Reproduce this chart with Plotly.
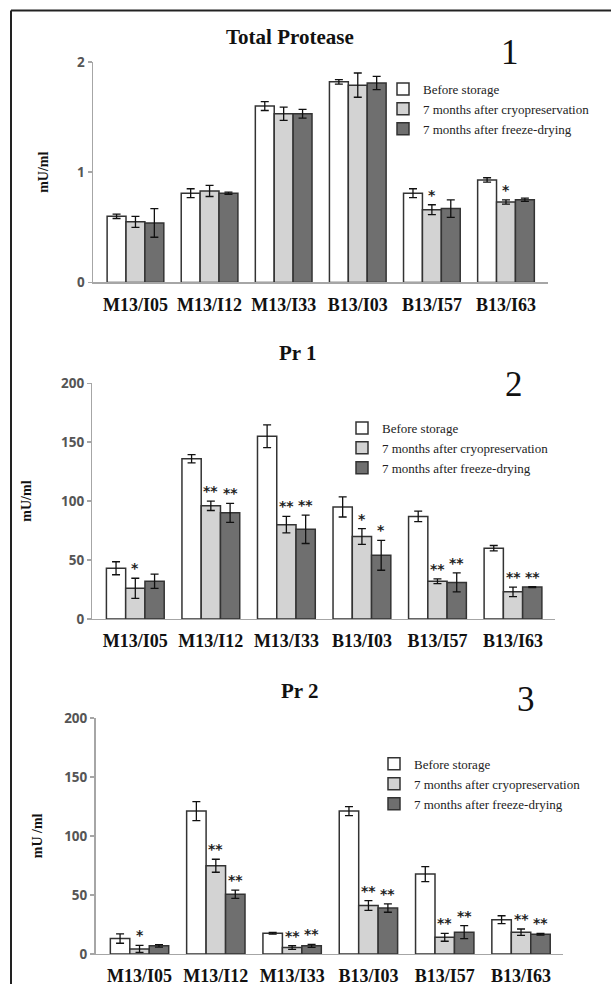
import plotly.graph_objects as go

W, H = 611, 993

categories = ["M13/I05", "M13/I12", "M13/I33", "B13/I03", "B13/I57", "B13/I63"]
series_names = ["Before storage", "7 months after cryopreservation", "7 months after freeze-drying"]

# Panel 1 - Total Protease (mU/ml)
total_before = [0.60, 0.81, 1.60, 1.82, 0.81, 0.93]
total_before_err = [0.02, 0.04, 0.04, 0.02, 0.04, 0.02]
total_cryo = [0.55, 0.83, 1.53, 1.79, 0.66, 0.73]
total_cryo_err = [0.05, 0.05, 0.06, 0.11, 0.045, 0.02]
total_fd = [0.54, 0.81, 1.53, 1.81, 0.67, 0.75]
total_fd_err = [0.13, 0.01, 0.04, 0.06, 0.08, 0.015]
total_cryo_sig = ["", "", "", "", "*", "*"]
total_fd_sig = ["", "", "", "", "", ""]

# Panel 2 - Pr 1 (mU/ml)
pr1_before = [43, 136, 155, 95, 87, 60]
pr1_before_err = [5.5, 3.5, 9.6, 8.5, 4.4, 2.3]
pr1_cryo = [26, 96, 80, 70, 32, 23]
pr1_cryo_err = [8.5, 4, 7, 6.7, 2, 4]
pr1_fd = [32, 90, 76, 54, 31, 27]
pr1_fd_err = [6, 8, 12, 12.7, 8, 0.4]
pr1_cryo_sig = ["*", "**", "**", "*", "**", "**"]
pr1_fd_sig = ["", "**", "**", "*", "**", "**"]

# Panel 3 - Pr 2 (mU/ml)
pr2_before = [13, 121, 17.5, 121, 67.6, 29]
pr2_before_err = [4, 8, 0.7, 3.8, 6.4, 3.3]
pr2_cryo = [4.2, 74.7, 5.4, 41, 14, 18.4]
pr2_cryo_err = [3, 5.5, 1.5, 4.2, 3.3, 2.7]
pr2_fd = [6.8, 50.6, 6.8, 38.8, 18.4, 16.7]
pr2_fd_err = [1, 3.5, 1.3, 3.5, 5.5, 0.7]
pr2_cryo_sig = ["*", "**", "**", "**", "**", "**"]
pr2_fd_sig = ["", "**", "**", "**", "**", "**"]

panel_titles = ["Total Protease", "Pr 1", "Pr 2"]
panel_numbers = ["1", "2", "3"]
y_titles = ["mU/ml", "mU/ml", "mU /ml"]
y_ticks = [[0, 1, 2], [0, 50, 100, 150, 200], [0, 50, 100, 150, 200]]

panels = [
    dict(vals=[total_before, total_cryo, total_fd],
         errs=[total_before_err, total_cryo_err, total_fd_err],
         sigs=[None, total_cryo_sig, total_fd_sig]),
    dict(vals=[pr1_before, pr1_cryo, pr1_fd],
         errs=[pr1_before_err, pr1_cryo_err, pr1_fd_err],
         sigs=[None, pr1_cryo_sig, pr1_fd_sig]),
    dict(vals=[pr2_before, pr2_cryo, pr2_fd],
         errs=[pr2_before_err, pr2_cryo_err, pr2_fd_err],
         sigs=[None, pr2_cryo_sig, pr2_fd_sig]),
]

# layout geometry in (target) pixels
geo = [
    dict(x0=93, x1=548, y0=282.5, y1=62, xr=[-0.573, 5.567], yr=[0, 2],
         title=(290, 37), num=(510, 53), leg=(383, 74), standoff=25),
    dict(x0=92.4, x1=555, y0=619, y1=383.3, xr=[-0.568, 5.556], yr=[0, 200],
         title=(298, 353), num=(514, 385), leg=(342, 413), standoff=26),
    dict(x0=95.5, x1=563, y0=954, y1=718, xr=[-0.577, 5.55], yr=[0, 200],
         title=(300, 691), num=(526, 700), leg=(374, 749), standoff=18),
]

# compensation for the vertical offset/scale seen in the rendered photo
V_OFF, V_SCALE = 9.0, 0.982


def py(y):
    """target pixel y -> paper y"""
    fy = (y - V_OFF) / V_SCALE
    return 1 - fy / H


def px(x):
    return x / W


fill_colors = ["#ffffff", "#d3d3d3", "#6f6f6f"]
line_color = "#333333"
axis_color = "#a6a6a6"
serif = "Liberation Serif, Times New Roman, serif"
BARGAP = 0.235
bar_w = (1 - BARGAP) / 3

fig = go.Figure()
annotations = []
layout_axes = {}

for p, (panel, g) in enumerate(zip(panels, geo)):
    sfx = "" if p == 0 else str(p + 1)
    xa, ya = "x" + sfx, "y" + sfx
    legname = "legend" + sfx
    for s in range(3):
        fig.add_trace(go.Bar(
            x=categories, y=panel["vals"][s], name=series_names[s],
            xaxis=xa, yaxis=ya, legend=legname,
            marker=dict(color=fill_colors[s], line=dict(color=line_color, width=1.5)),
            error_y=dict(type="data", array=panel["errs"][s], visible=True,
                         color="#111111", thickness=1.3, width=4),
        ))
        sig = panel["sigs"][s]
        if sig:
            for i, t in enumerate(sig):
                if not t:
                    continue
                annotations.append(dict(
                    x=i + (s - 1) * bar_w, y=panel["vals"][s][i] + panel["errs"][s][i],
                    xref=xa, yref=ya, text="<b>" + t + "</b>", showarrow=False, yanchor="bottom",
                    yshift=0, font=dict(family="DejaVu Sans", size=14, color="#222222")))
    layout_axes["xaxis" + sfx] = dict(
        domain=[px(g["x0"]), px(g["x1"])], anchor=ya, range=g["xr"],
        type="category", showline=True, linecolor=axis_color, linewidth=1.5,
        ticks="outside", ticklen=5, tickcolor="rgba(0,0,0,0)",
        tickfont=dict(family=serif, size=18, color="#111111", weight="bold"),
        showgrid=False, zeroline=False, fixedrange=True)
    layout_axes["yaxis" + sfx] = dict(
        domain=[py(g["y0"]), py(g["y1"])], anchor=xa, range=g["yr"],
        tickvals=y_ticks[p], showline=True, linecolor=axis_color, linewidth=1.5,
        ticks="outside", ticklen=4, tickcolor=axis_color, tickwidth=1.5,
        tickfont=dict(family="Open Sans", size=13.5, color="#555555", weight="bold"),
        title=dict(text=y_titles[p], standoff=g["standoff"],
                   font=dict(family=serif, size=14, color="#111111", weight="bold")),
        showgrid=False, zeroline=False, fixedrange=True)
    layout_axes[legname] = dict(
        x=px(g["leg"][0]), y=py(g["leg"][1]), xanchor="left", yanchor="top",
        bgcolor="rgba(0,0,0,0)", font=dict(family=serif, size=13, color="#222222"),
        tracegroupgap=0, itemclick=False)
    annotations.append(dict(
        x=px(g["title"][0]), y=py(g["title"][1]), xref="paper", yref="paper",
        text="<b>" + panel_titles[p] + "</b>", showarrow=False,
        xanchor="center", yanchor="middle",
        font=dict(family=serif, size=21, color="#111111")))
    annotations.append(dict(
        x=px(g["num"][0]), y=py(g["num"][1]), xref="paper", yref="paper",
        text=panel_numbers[p], showarrow=False, xanchor="center", yanchor="middle",
        font=dict(family=serif, size=35, color="#111111")))

fig.update_layout(
    width=W, height=H, margin=dict(l=0, r=0, t=0, b=0),
    paper_bgcolor="white", plot_bgcolor="white",
    barmode="group", bargap=BARGAP, bargroupgap=0,
    showlegend=True, annotations=annotations,
    shapes=[
        dict(type="line", xref="paper", yref="paper", x0=px(11), x1=1, y0=1 - 1.5 / H, y1=1 - 1.5 / H,
             line=dict(color="#222222", width=2)),
        dict(type="line", xref="paper", yref="paper", x0=px(11), x1=px(11), y0=0, y1=1 - 1.5 / H,
             line=dict(color="#222222", width=2)),
    ],
    **layout_axes,
)

fig.write_html(
    "out.html",
    config={"displayModeBar": False, "staticPlot": True},
    post_script=(
        "document.body.style.margin='0';document.body.style.padding='0';"
        "document.documentElement.style.overflow='hidden';"
        "var gd=document.getElementById('{plot_id}');"
        "gd.style.position='fixed';gd.style.top='0px';gd.style.left='0px';"
    ),
)
